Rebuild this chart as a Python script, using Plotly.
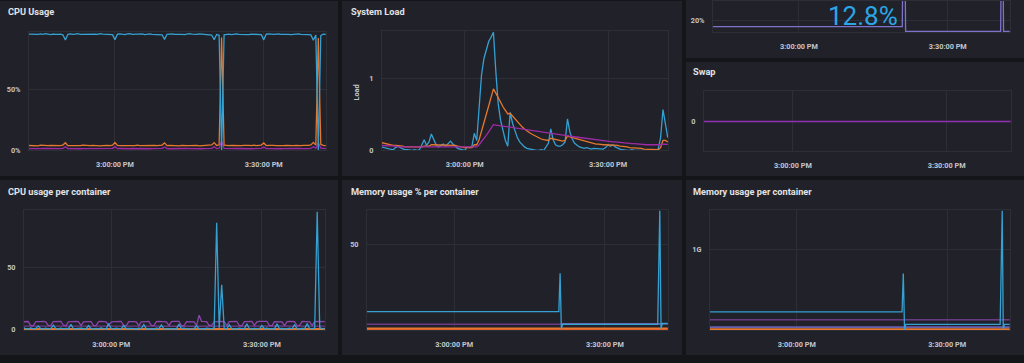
import pandas as pd
import plotly.graph_objects as go

W, H = 1024, 363
DAY = "2024-01-01 "
START = DAY + "14:42:30"
X_RANGE = [DAY + "14:42:40", DAY + "15:42:33"]
X_TICKS = [DAY + "15:00:00", DAY + "15:30:00"]
X_TICKTEXT = ["3:00:00 PM", "3:30:00 PM"]

# ---------------- data (30 s samples from 14:42:30) ----------------
cpu_idle = [
    94.7, 94.5, 94.9, 94.6, 94.4, 94.8, 94.5, 95.0, 94.6, 94.3,
    94.7, 94.9, 94.5, 94.6, 94.1, 89.8, 94.5, 94.8, 94.4, 94.7,
    95.0, 94.5, 94.6, 94.3, 94.8, 94.9, 94.4, 94.7, 94.5, 95.1,
    94.6, 94.4, 94.7, 94.5, 94.2, 90.1, 94.6, 94.9, 94.5, 94.3,
    94.8, 95.0, 94.4, 94.6, 94.7, 94.5, 94.9, 94.3, 94.6, 94.8,
    94.5, 94.4, 94.7, 94.6, 94.1, 90.4, 94.5, 94.7, 94.9, 94.4,
    94.6, 94.8, 94.5, 94.3, 94.7, 95.0, 94.6, 94.4, 94.5, 94.8,
    94.6, 94.3, 94.7, 94.4, 93.9, 90.2, 94.4, 93.7, 0.5, 94.1,
    94.5, 94.7, 94.3, 94.6, 94.9, 94.5, 94.4, 94.8, 94.6, 94.3,
    94.7, 94.5, 94.9, 94.6, 94.2, 90.0, 94.6, 94.8, 94.4, 94.5,
    94.7, 94.9, 94.4, 94.6, 94.8, 94.5, 94.3, 94.7, 94.6, 94.9,
    94.4, 94.5, 94.7, 94.3, 94.0, 89.6, 93.9, 0.3, 93.5, 94.6,
    94.5,
]
cpu_user = [
    4.1, 3.9, 4.2, 4.0, 3.8, 4.3, 4.0, 4.1, 3.9, 4.2,
    4.0, 3.8, 4.1, 4.0, 4.4, 6.3, 4.0, 3.9, 4.2, 4.1,
    3.8, 4.0, 4.3, 4.1, 3.9, 4.0, 4.2, 3.9, 4.1, 3.8,
    4.0, 4.2, 4.1, 3.9, 4.3, 6.5, 4.1, 3.9, 4.0, 4.2,
    3.8, 4.1, 4.0, 3.9, 4.3, 4.0, 4.1, 3.8, 4.2, 4.0,
    3.9, 4.1, 4.0, 4.2, 4.4, 6.2, 4.0, 4.1, 3.9, 4.2,
    4.0, 3.8, 4.1, 4.3, 4.0, 3.9, 4.1, 4.0, 4.2, 3.8,
    4.0, 4.1, 3.9, 4.2, 4.5, 6.4, 4.1, 4.6, 92.0, 4.3,
    4.0, 3.9, 4.2, 4.0, 4.1, 3.8, 4.0, 4.2, 3.9, 4.1,
    4.0, 4.3, 3.9, 4.1, 4.4, 6.1, 4.0, 4.2, 3.9, 4.1,
    4.0, 3.8, 4.2, 4.0, 4.1, 3.9, 4.3, 4.0, 4.1, 3.8,
    4.0, 4.2, 3.9, 4.1, 4.5, 6.6, 4.4, 91.5, 5.0, 4.1,
    4.0,
]
cpu_system = [
    1.5, 1.4, 1.6, 1.5, 1.4, 1.5, 1.6, 1.5, 1.4, 1.5,
    1.5, 1.4, 1.6, 1.5, 1.7, 3.0, 1.5, 1.4, 1.5, 1.6,
    1.5, 1.4, 1.5, 1.5, 1.6, 1.4, 1.5, 1.5, 1.4, 1.6,
    1.5, 1.5, 1.4, 1.5, 1.7, 3.1, 1.5, 1.6, 1.4, 1.5,
    1.5, 1.4, 1.6, 1.5, 1.5, 1.4, 1.5, 1.6, 1.5, 1.4,
    1.5, 1.5, 1.6, 1.5, 1.7, 2.9, 1.5, 1.4, 1.5, 1.6,
    1.5, 1.5, 1.4, 1.5, 1.6, 1.5, 1.4, 1.5, 1.5, 1.6,
    1.4, 1.5, 1.5, 1.4, 1.7, 3.0, 1.5, 1.8, 7.5, 1.7,
    1.5, 1.4, 1.5, 1.6, 1.5, 1.4, 1.5, 1.5, 1.6, 1.5,
    1.4, 1.5, 1.6, 1.5, 1.7, 2.9, 1.5, 1.5, 1.4, 1.6,
    1.5, 1.5, 1.4, 1.5, 1.6, 1.5, 1.4, 1.5, 1.5, 1.6,
    1.5, 1.4, 1.5, 1.5, 1.7, 3.1, 1.8, 6.5, 2.0, 1.5,
    1.5,
]

load1 = [
    0.05, 0.04, 0.03, 0.02, 0.01, 0.01, 0.04, 0.06, 0.04, 0.02,
    0.01, 0.01, 0.00, 0.00, 0.01, 0.00, 0.01, 0.08, 0.15, 0.07,
    0.12, 0.23, 0.14, 0.08, 0.05, 0.07, 0.09, 0.06, 0.10, 0.13,
    0.09, 0.06, 0.03, 0.02, 0.01, 0.00, 0.05, 0.04, 0.06, 0.24,
    0.14, 0.55, 1.05, 1.28, 1.40, 1.52, 1.58, 1.65, 1.10, 0.65,
    0.42, 0.28, 0.14, 0.06, 0.53, 0.38, 0.27, 0.18, 0.12, 0.08,
    0.05, 0.03, 0.02, 0.01, 0.01, 0.00, 0.00, 0.01, 0.00, 0.05,
    0.10, 0.30, 0.15, 0.08, 0.06, 0.06, 0.08, 0.12, 0.44, 0.26,
    0.16, 0.10, 0.07, 0.05, 0.04, 0.03, 0.04, 0.03, 0.02, 0.03,
    0.03, 0.02, 0.03, 0.02, 0.04, 0.08, 0.06, 0.08, 0.05, 0.03,
    0.02, 0.01, 0.00, 0.00, 0.00, 0.01, 0.00, 0.00, 0.00, 0.01,
    0.00, 0.00, 0.00, 0.00, 0.00, 0.00, 0.02, 0.18, 0.57, 0.35,
    0.18,
]
load5 = [
    0.11, 0.10, 0.09, 0.08, 0.08, 0.07, 0.07, 0.07, 0.06, 0.06,
    0.05, 0.05, 0.05, 0.04, 0.04, 0.04, 0.04, 0.05, 0.06, 0.06,
    0.06, 0.08, 0.08, 0.07, 0.07, 0.07, 0.07, 0.07, 0.07, 0.08,
    0.07, 0.07, 0.06, 0.05, 0.05, 0.04, 0.04, 0.04, 0.04, 0.08,
    0.08, 0.15, 0.26, 0.38, 0.50, 0.62, 0.74, 0.86, 0.80, 0.73,
    0.67, 0.61, 0.56, 0.51, 0.52, 0.48, 0.44, 0.40, 0.36, 0.33,
    0.30, 0.27, 0.25, 0.23, 0.21, 0.19, 0.17, 0.16, 0.15, 0.14,
    0.14, 0.17, 0.16, 0.15, 0.14, 0.13, 0.13, 0.14, 0.20, 0.19,
    0.18, 0.17, 0.16, 0.15, 0.14, 0.13, 0.12, 0.11, 0.11, 0.10,
    0.09, 0.09, 0.08, 0.08, 0.08, 0.08, 0.08, 0.08, 0.07, 0.07,
    0.06, 0.06, 0.05, 0.05, 0.04, 0.04, 0.04, 0.03, 0.03, 0.03,
    0.02, 0.02, 0.02, 0.02, 0.01, 0.01, 0.01, 0.04, 0.14, 0.14,
    0.12,
]
load15 = [
    0.07, 0.07, 0.06, 0.06, 0.06, 0.06, 0.06, 0.05, 0.05, 0.05,
    0.05, 0.05, 0.04, 0.04, 0.04, 0.04, 0.04, 0.04, 0.05, 0.05,
    0.05, 0.05, 0.05, 0.05, 0.05, 0.05, 0.05, 0.05, 0.05, 0.05,
    0.05, 0.05, 0.04, 0.04, 0.04, 0.04, 0.04, 0.04, 0.04, 0.05,
    0.05, 0.08, 0.12, 0.16, 0.21, 0.26, 0.31, 0.36, 0.355, 0.35,
    0.345, 0.34, 0.335, 0.33, 0.325, 0.32, 0.315, 0.31, 0.30, 0.295,
    0.29, 0.285, 0.28, 0.27, 0.265, 0.26, 0.255, 0.25, 0.245, 0.24,
    0.235, 0.23, 0.23, 0.225, 0.22, 0.215, 0.21, 0.205, 0.20, 0.20,
    0.195, 0.19, 0.185, 0.18, 0.175, 0.17, 0.165, 0.16, 0.155, 0.15,
    0.145, 0.14, 0.14, 0.135, 0.13, 0.13, 0.125, 0.12, 0.12, 0.115,
    0.11, 0.11, 0.105, 0.10, 0.10, 0.095, 0.095, 0.09, 0.09, 0.085,
    0.085, 0.08, 0.08, 0.08, 0.075, 0.075, 0.075, 0.08, 0.09, 0.09,
    0.085,
]

# container CPU (30 s samples)
cont_cpu_a = [
    6.2, 6.5, 6.4, 3.2, 3.0, 6.3, 6.6, 6.4, 6.5, 6.2,
    3.1, 3.3, 6.4, 6.5, 6.3, 6.6, 3.4, 3.0, 6.2, 6.5,
    6.4, 6.6, 6.3, 3.2, 6.1, 6.5, 6.4, 6.3, 3.1, 3.2,
    6.4, 6.6, 6.5, 6.2, 3.3, 6.0, 6.4, 6.5, 6.3, 6.6,
    3.2, 3.0, 6.3, 6.5, 6.4, 6.2, 3.1, 6.2, 6.6, 6.4,
    6.5, 3.3, 3.1, 6.3, 6.5, 6.4, 6.6, 6.2, 3.2, 6.4,
    6.5, 6.3, 6.6, 3.0, 3.2, 6.4, 6.5, 6.3, 6.2, 3.1,
    11.5, 6.5, 6.6, 6.4, 3.2, 3.3, 6.2, 6.5, 6.4, 6.6,
    6.3, 3.1, 6.4, 6.5, 6.2, 6.6, 3.2, 3.0, 6.3, 6.4,
    6.6, 6.5, 3.3, 6.2, 6.5, 6.4, 6.3, 6.6, 3.1, 3.2,
    6.4, 6.5, 6.3, 6.2, 3.2, 6.4, 6.6, 6.5, 6.3, 3.0,
    3.3, 6.5, 6.4, 6.6, 6.2, 3.1, 6.3, 6.5, 6.4, 6.6,
    6.3,
]
cont_cpu_b = [
    1.8, 0.6, 0.4, 1.2, 0.5, 0.8, 2.9, 0.6, 0.4, 1.0,
    0.5, 0.7, 3.5, 0.6, 0.4, 1.1, 0.5, 0.9, 0.6, 4.2,
    0.5, 0.7, 0.4, 1.0, 0.6, 0.5, 3.1, 0.7, 0.4, 0.9,
    0.5, 1.2, 0.6, 0.4, 4.8, 0.7, 0.5, 1.0, 0.6, 0.4,
    3.3, 0.6, 0.9, 0.5, 0.7, 0.4, 1.1, 0.6, 4.0, 0.5,
    0.8, 0.6, 0.4, 1.0, 0.7, 3.6, 0.5, 0.6, 0.9, 0.4,
    0.7, 0.5, 4.4, 0.6, 1.0, 0.5, 0.4, 0.8, 0.6, 3.0,
    0.5, 0.7, 0.4, 1.0, 0.6, 0.5, 1.2, 86.0, 1.0, 36.0,
    0.8, 0.6, 3.8, 0.5, 0.7, 0.4, 1.1, 0.6, 0.5, 4.6,
    0.6, 0.4, 0.9, 0.7, 0.5, 3.2, 0.6, 1.0, 0.4, 0.7,
    0.5, 4.5, 0.6, 0.8, 0.4, 0.7, 1.0, 0.5, 3.9, 0.6,
    0.4, 0.9, 0.6, 4.7, 0.5, 0.7, 1.0, 95.0, 1.5, 0.6,
    0.8,
]
# 5-minute samples
cont_cpu_c = [2.7, 2.8, 2.6, 2.7, 2.9, 2.7, 2.6, 2.8, 2.7, 2.6, 2.8, 2.7, 2.7]
cont_cpu_flat_t = ["14:42:30", "15:42:30"]
cont_cpu_d = [0.35, 0.35]
cont_cpu_e = [0.05, 0.05]

# memory % (cut top-right panel) - breakpoints
mem_t = ["14:42:30", "15:20:50", "15:21:00", "15:21:20", "15:21:30",
         "15:40:40", "15:40:50", "15:41:05", "15:41:15", "15:42:30"]
mem_v = [16.0, 16.0, 80.0, 80.0, 12.8, 12.8, 80.0, 80.0, 12.8, 12.8]
mem_stat = "12.8%"

swap_t = ["14:42:30", "15:42:30"]
swap_v = [0.0, 0.0]

# memory usage % per container
mpc_cyan_t = ["14:42:30", "15:20:50", "15:21:05", "15:21:20", "15:21:35",
              "15:40:30", "15:40:55", "15:41:10", "15:41:25", "15:42:30"]
mpc_cyan_v = [10.5, 10.5, 33.0, 0.4, 3.0, 3.0, 70.0, 0.4, 3.6, 3.6]
mpc_purple_t = ["14:42:30", "15:21:20"]
mpc_purple_v = [3.1, 3.1]
mpc_lav_t = ["15:21:20", "15:42:30"]
mpc_lav_v = [3.3, 3.3]
mpc_flat_t = ["14:42:30", "15:42:30"]
mpc_orange_v = [0.5, 0.5]
mpc_red_v = [0.1, 0.1]

# memory usage per container (GiB)
mbc_cyan_t = ["14:42:30", "15:21:00", "15:21:15", "15:21:30", "15:21:45",
              "15:40:35", "15:41:00", "15:41:12", "15:41:25", "15:42:30"]
mbc_cyan_v = [0.22, 0.22, 0.70, 0.0, 0.065, 0.065, 1.49, 0.0, 0.065, 0.065]
mbc_flat_t = ["14:42:30", "15:42:30"]
mbc_purple_v = [0.123, 0.123]
mbc_lav_v = [0.03, 0.03]
mbc_orange_v = [0.004, 0.004]

# ---------------- styling ----------------
PAGE_BG = "#141519"
PANEL_BG = "#212229"
GRID = "#2d2e36"
TICK_COLOR = "#c3c6cc"
TITLE_COLOR = "#e2e3e5"
CYAN = "#35a0d2"
ORANGE = "#e5772e"
MAGENTA = "#9e2aa6"
PURPLE = "#8a44aa"
DPURPLE = "#6b3a85"
LAV = "#6a60b0"
RED = "#e0442c"
MEMLINE = "#7b72cc"
STAT = "#2aa6e6"

FONT = "Roboto, Inter, sans-serif"
TICK_FONT = dict(family=FONT, size=7.3, color=TICK_COLOR, weight="bold")


def t30(vals):
    return pd.date_range(START, periods=len(vals), freq="30s")


def tl(lst):
    return pd.to_datetime([DAY + s for s in lst])


fig = go.Figure()

panels = [  # (x0, y0, x1, y1) in pixels from top-left
    (0, 0, 338, 178), (342, 0, 682, 178), (686, -10, 1024, 58),
    (686, 62, 1024, 178), (0, 182, 338, 360), (342, 182, 682, 360),
    (686, 182, 1024, 360),
]
shapes = []
for (x0, y0, x1, y1) in panels:
    shapes.append(dict(type="rect", xref="paper", yref="paper", layer="below",
                       x0=x0 / W, x1=x1 / W, y0=1 - y1 / H, y1=1 - y0 / H,
                       fillcolor=PANEL_BG, line=dict(width=0)))

axes = {
    1: dict(box=(29, 32, 326, 152), yr=[0, 96], tv=[0, 50], tt=["0%", "50%"]),
    2: dict(box=(382, 31, 668, 152), yr=[0, 1.66], tv=[0, 1], tt=["0", "1"]),
    3: dict(box=(713, 0, 1010, 32), yr=[12.1, 33.3], tv=[20], tt=["20%"]),
    4: dict(box=(704, 92, 1011, 153), yr=[-1, 1], tv=[0], tt=["0"]),
    5: dict(box=(24, 213, 325, 335), yr=[-0.8, 96], tv=[0, 50], tt=["0", "50"]),
    6: dict(box=(367, 213, 668, 335), yr=[-0.6, 70], tv=[50], tt=["50"]),
    7: dict(box=(710, 213, 1010, 335), yr=[-0.012, 1.49], tv=[1], tt=["1G"]),
}

layout_axes = {}
for k, a in axes.items():
    l, t, r, b = a["box"]
    sx = "" if k == 1 else str(k)
    layout_axes["xaxis" + sx] = dict(
        domain=[l / W, r / W], anchor="y" + sx, type="date", range=X_RANGE,
        tickvals=X_TICKS, ticktext=X_TICKTEXT, showgrid=True, gridcolor=GRID,
        zeroline=False, showline=True, linecolor=GRID, mirror=True, ticks="",
        ticklabelstandoff=7, tickfont=TICK_FONT, fixedrange=True)
    layout_axes["yaxis" + sx] = dict(
        domain=[1 - b / H, 1 - t / H], anchor="x" + sx, range=a["yr"],
        tickvals=a["tv"], ticktext=a["tt"], showgrid=True, gridcolor=GRID,
        zeroline=False, showline=True, linecolor=GRID, mirror=True, ticks="",
        ticklabelstandoff=6, tickfont=TICK_FONT, fixedrange=True)


def add(k, x, y, color, width=1.3):
    sx = "" if k == 1 else str(k)
    fig.add_trace(go.Scatter(x=x, y=y, mode="lines", line=dict(color=color, width=width),
                             xaxis="x" + sx, yaxis="y" + sx, hoverinfo="skip",
                             showlegend=False))


# CPU usage
add(1, t30(cpu_system), cpu_system, MAGENTA)
add(1, t30(cpu_user), cpu_user, ORANGE)
add(1, t30(cpu_idle), cpu_idle, CYAN)
# System load
add(2, t30(load1), load1, CYAN)
add(2, t30(load5), load5, ORANGE)
add(2, t30(load15), load15, MAGENTA)
# memory (cut)
add(3, tl(mem_t), mem_v, MEMLINE)
# swap
add(4, tl(swap_t), swap_v, "#9130b0")
# CPU per container
add(5, pd.date_range(START, periods=len(cont_cpu_c), freq="5min"), cont_cpu_c, DPURPLE)
add(5, t30(cont_cpu_a), cont_cpu_a, PURPLE)
add(5, tl(cont_cpu_flat_t), cont_cpu_e, RED, 2)
add(5, tl(cont_cpu_flat_t), cont_cpu_d, ORANGE, 2)
add(5, t30(cont_cpu_b), cont_cpu_b, CYAN)
# memory % per container
add(6, tl(mpc_purple_t), mpc_purple_v, DPURPLE, 1.6)
add(6, tl(mpc_lav_t), mpc_lav_v, LAV, 1.6)
add(6, tl(mpc_flat_t), mpc_red_v, RED, 2)
add(6, tl(mpc_flat_t), mpc_orange_v, ORANGE, 2)
add(6, tl(mpc_cyan_t), mpc_cyan_v, CYAN)
# memory per container
add(7, tl(mbc_flat_t), mbc_purple_v, DPURPLE, 1.6)
add(7, tl(mbc_flat_t), mbc_lav_v, LAV, 1.6)
add(7, tl(mbc_flat_t), mbc_orange_v, ORANGE, 2)
add(7, tl(mbc_cyan_t), mbc_cyan_v, CYAN)

titles = [
    ("CPU Usage", 6, 11), ("System Load", 349, 11), ("Swap", 691, 72),
    ("CPU usage per container", 6, 194), ("Memory usage % per container", 349, 194),
    ("Memory usage per container", 691, 194),
]
ann = []
for txt, x, y in titles:
    ann.append(dict(text=txt, x=x / W, y=1 - y / H, xref="paper", yref="paper",
                    xanchor="left", yanchor="middle", showarrow=False,
                    font=dict(family=FONT, size=9.2, color=TITLE_COLOR, weight="bold")))
ann.append(dict(text="Load", x=356 / W, y=1 - 93 / H, xref="paper", yref="paper",
                textangle=-90, showarrow=False, xanchor="center", yanchor="middle",
                font=dict(family=FONT, size=7.3, color=TICK_COLOR, weight="bold")))
ann.append(dict(text=mem_stat, x=863 / W, y=1 - 15 / H, xref="paper", yref="paper",
                showarrow=False, xanchor="center", yanchor="middle",
                font=dict(family="Roboto, sans-serif", size=26, color=STAT, weight=400)))

fig.update_layout(width=W, height=H, margin=dict(l=0, r=0, t=0, b=0),
                  paper_bgcolor=PAGE_BG, plot_bgcolor="rgba(0,0,0,0)",
                  shapes=shapes, annotations=ann, showlegend=False, **layout_axes)
fig.write_html("out.html", config=dict(displayModeBar=False),
               post_script="document.body.style.margin='0';document.body.style.overflow='hidden';")
